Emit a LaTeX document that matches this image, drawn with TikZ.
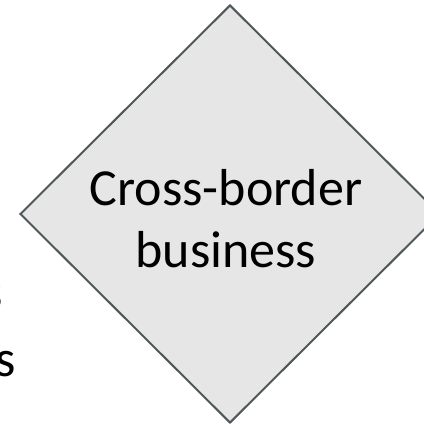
\documentclass[tikz,border=0pt]{standalone}
\usepackage{fontspec}
\setmainfont{Carlito}
\usetikzlibrary{shapes.geometric}
\definecolor{dfill}{HTML}{E6E6E6}
\definecolor{dline}{HTML}{4F5858}
\tikzset{
  bigtext/.style={font=\fontsize{52}{62}\selectfont, inner sep=0pt, text=black},
  dia/.style={shape=diamond, draw=dline, fill=dfill, line width=2pt, inner sep=0pt,
    minimum width=420pt, minimum height=418pt, line join=miter}
}
\begin{document}
\begin{tikzpicture}[x=1pt,y=1pt]
\useasboundingbox (0,0) rectangle (424,424);
\node[dia] (d) at (230,210) {};
\node[bigtext, anchor=base] (l1) at (226,218) {Cross-border};
\node[bigtext, anchor=base] (l2) at (226,156) {business};
\node[bigtext, anchor=base east] (s1) at (3,114) {s};
\node[bigtext, anchor=base east] (s2) at (16,48) {s};
\end{tikzpicture}
\end{document}
